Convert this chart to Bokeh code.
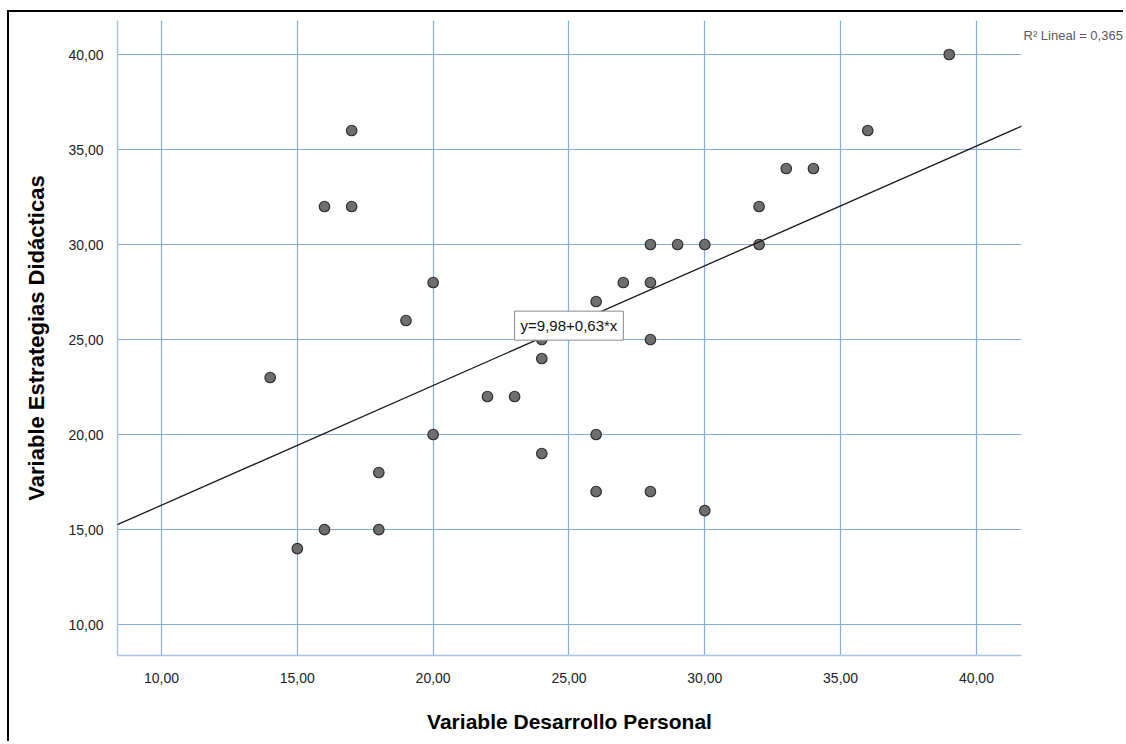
from bokeh.plotting import figure
from bokeh.models import Label, FixedTicker, Range1d, Slope, ColumnDataSource
from bokeh.embed import file_html
from bokeh.resources import INLINE

# ---- data ----
x_vals = [14, 15, 16, 16, 17, 17, 18, 18, 19, 20, 20, 22, 23, 24, 24, 24, 26,
          26, 26, 27, 28, 28, 28, 28, 29, 30, 30, 32, 32, 33, 34, 36, 39]
y_vals = [23, 14, 32, 15, 36, 32, 18, 15, 26, 28, 20, 22, 22, 25, 24, 19, 27,
          20, 17, 28, 30, 28, 25, 17, 30, 30, 16, 32, 30, 34, 34, 36, 40]
intercept = 9.98
slope = 0.63
equation_text = "y=9,98+0,63*x"
r2_text = "R\u00b2 Lineal = 0,365"
x_ticks = [10, 15, 20, 25, 30, 35, 40]
x_tick_labels = ["10,00", "15,00", "20,00", "25,00", "30,00", "35,00", "40,00"]
y_ticks = [10, 15, 20, 25, 30, 35, 40]
y_tick_labels = ["10,00", "15,00", "20,00", "25,00", "30,00", "35,00", "40,00"]
x_title = "Variable Desarrollo Personal"
y_title = "Variable Estrategias Didácticas"

FONT = "Liberation Sans"
GRID = "#86acdb"
AXIS = "#a9c3e2"

p = figure(width=1116, height=731, output_backend="svg", toolbar_location=None,
           x_range=Range1d(8.38, 41.66), y_range=Range1d(8.37, 41.79),
           min_border_left=108, min_border_right=104, min_border_top=8,
           min_border_bottom=88)
p.styles = {"margin-left": "7px", "margin-top": "10px",
            "border-left": "2px solid black", "border-top": "2px solid black"}
p.outline_line_color = None
p.background_fill_color = "white"
p.border_fill_color = "white"

for ax, ticks, labels in ((p.xaxis[0], x_ticks, x_tick_labels), (p.yaxis[0], y_ticks, y_tick_labels)):
    ax.ticker = FixedTicker(ticks=ticks)
    ax.major_label_overrides = {t: l for t, l in zip(ticks, labels)}
    ax.major_tick_line_color = None
    ax.minor_tick_line_color = None
    ax.axis_line_color = AXIS
    ax.axis_line_width = 1.5
    ax.major_label_text_font = FONT
    ax.major_label_text_font_size = "14px"
    ax.major_label_text_color = "#222222"
    ax.axis_label_text_font = FONT
    ax.axis_label_text_font_style = "bold"
    ax.axis_label_text_color = "#000000"

p.xaxis.axis_label = x_title
p.yaxis.axis_label = y_title
p.xaxis.axis_label_text_font_size = "21px"
p.yaxis.axis_label_text_font_size = "22px"
p.xaxis.major_label_standoff = 11
p.yaxis.major_label_standoff = 8
p.xaxis.axis_label_standoff = 24
p.yaxis.axis_label_standoff = 16

p.xgrid.grid_line_color = GRID
p.ygrid.grid_line_color = GRID
p.xgrid.grid_line_width = 1.2
p.ygrid.grid_line_width = 1.2

# regression line
p.add_layout(Slope(gradient=slope, y_intercept=intercept, line_color="#1a1a1a", line_width=1.3))

src = ColumnDataSource(dict(x=x_vals, y=y_vals))
p.scatter("x", "y", source=src, size=10.5, fill_color="#6e6e6e", line_color="#2e2e2e", line_width=1.2)

eq_x = 25
p.add_layout(Label(x=eq_x, y=intercept + slope * eq_x, text=equation_text,
                   text_align="center", text_baseline="middle",
                   text_font=FONT, text_font_size="15px", text_color="#111111",
                   background_fill_color="white", border_line_color="#8a8a8a",
                   border_line_width=1, padding=6))

p.add_layout(Label(x=2, y=620, x_units="screen", y_units="screen", text=r2_text,
                   text_align="left", text_baseline="middle",
                   text_font=FONT, text_font_size="13px", text_color="#5a5a5a"), "right")

open("out.html", "w").write(file_html(p, INLINE))
